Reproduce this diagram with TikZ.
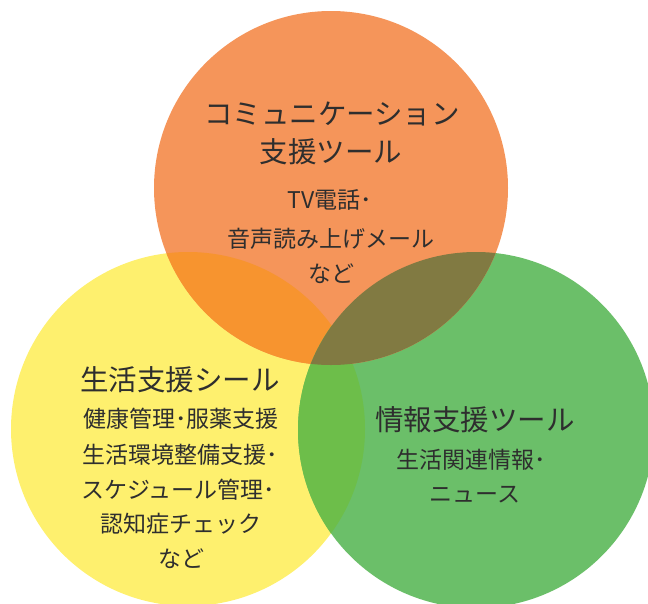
\documentclass[tikz,border=0pt]{standalone}
\usepackage{fontspec}
\setmainfont{Noto Sans CJK JP}
\definecolor{corange}{HTML}{F5955A}
\definecolor{cyellow}{HTML}{FEF06E}
\definecolor{cgreen}{HTML}{6BBF69}
\definecolor{coy}{HTML}{F7942F}
\definecolor{cog}{HTML}{817A42}
\definecolor{cyg}{HTML}{6DBE4A}
\definecolor{ctext}{HTML}{2E2E2E}
\tikzset{
  big/.style={font=\fontsize{28.5}{31}\selectfont, text=ctext, inner sep=0pt},
  small/.style={font=\fontsize{23}{26}\selectfont, text=ctext, inner sep=0pt}
}
\begin{document}
\begin{tikzpicture}[x=1pt,y=-1pt]
\useasboundingbox (0,0) rectangle (648,603);
\begin{scope}
\clip (0,0) rectangle (648,603);
\coordinate (O) at (331,188);
\coordinate (Y) at (188,429);
\coordinate (G) at (476,430);
\fill[cyellow] (Y) circle[radius=177];
\fill[cgreen] (G) circle[radius=178];
\fill[corange] (O) circle[radius=177];
\begin{scope}
\clip (O) circle[radius=177];
\fill[coy] (Y) circle[radius=177];
\end{scope}
\begin{scope}
\clip (Y) circle[radius=177];
\fill[cyg] (G) circle[radius=178];
\end{scope}
\begin{scope}
\clip (O) circle[radius=177];
\fill[cog] (G) circle[radius=178];
\end{scope}
\end{scope}
% orange texts
\node[big] (o1) at (332,114) {コミュニケーション};
\node[big] (o2) at (331,152) {支援ツール};
\node[small] (o3) at (330,200) {TV電話･};
\node[small] (o4) at (331,239) {音声読み上げメール};
\node[small] (o5) at (331,274) {など};
% yellow texts
\node[big] (y1) at (180,380) {生活支援シール};
\node[small] (y2) at (181,419) {健康管理･服薬支援};
\node[small] (y3) at (180,455) {生活環境整備支援･};
\node[small] (y4) at (178,490) {スケジュール管理･};
\node[small] (y5) at (181,524) {認知症チェック};
\node[small] (y6) at (181,559) {など};
% green texts
\node[big] (g1) at (475,420) {情報支援ツール};
\node[small] (g2) at (471,460) {生活関連情報･};
\node[small] (g3) at (475,495) {ニュース};
\end{tikzpicture}
\end{document}
